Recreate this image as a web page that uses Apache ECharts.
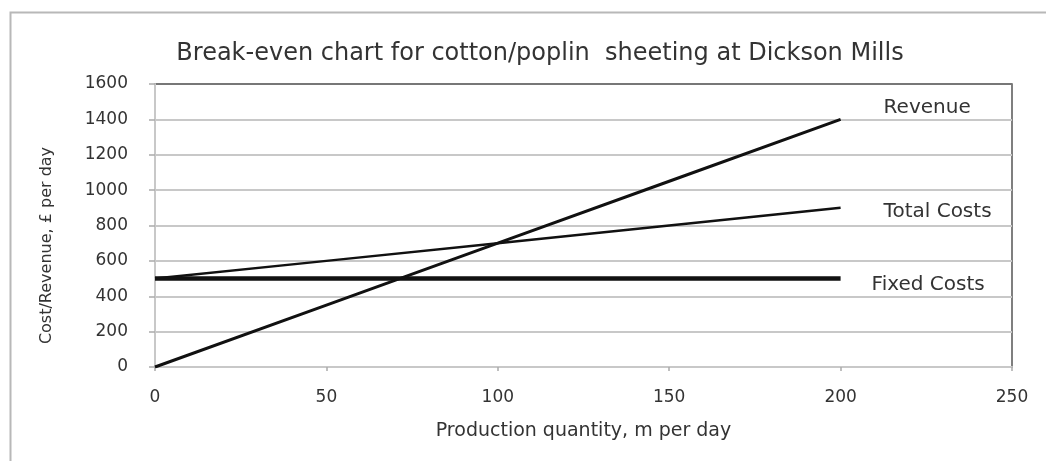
<!DOCTYPE html>
<html>
<head>
<meta charset="utf-8">
<title>Break-even chart</title>
<script src="https://cdn.jsdelivr.net/npm/echarts@6/dist/echarts.min.js"></script>
<style>
  html, body { margin: 0; padding: 0; background: #fff; }
  #chart { width: 1046px; height: 461px; }
</style>
</head>
<body>
<div id="chart"></div>
<script>
// data
var quantity = [0, 50, 100, 150, 200];
var revenue = [0, 350, 700, 1050, 1400];
var totalCosts = [500, 600, 700, 800, 900];
var fixedCosts = [500, 500, 500, 500, 500];
var seriesNames = ['Revenue', 'Total Costs', 'Fixed Costs'];
var xTicks = [0, 50, 100, 150, 200, 250];
var yTicks = [0, 200, 400, 600, 800, 1000, 1200, 1400, 1600];

function pairs(xs, ys) {
  return xs.map(function (x, i) { return [x, ys[i]]; });
}

var font = 'DejaVu Sans';
var chartDom = document.getElementById('chart');
var myChart = echarts.init(chartDom);
var option;

option = {
  animation: false,
  backgroundColor: '#fff',
  textStyle: { fontFamily: font },
  title: {
    text: 'Break-even chart for cotton/poplin  sheeting at Dickson Mills',
    left: 535,
    top: 37,
    textAlign: 'center',
    textStyle: { fontFamily: font, fontSize: 24, fontWeight: 'normal', color: '#333' }
  },
  graphic: [
    {
      type: 'rect',
      silent: true,
      z: -10,
      shape: { x: 10.5, y: 12.5, width: 1200, height: 600 },
      style: { fill: 'none', stroke: '#b8b8b8', lineWidth: 2 }
    }
  ],
  grid: {
    left: 155,
    top: 84,
    right: 34,
    bottom: 94,
    show: true,
    borderColor: '#555',
    borderWidth: 1.5
  },
  xAxis: {
    type: 'value',
    min: xTicks[0],
    max: xTicks[xTicks.length - 1],
    interval: 50,
    name: 'Production quantity, m per day',
    nameLocation: 'middle',
    nameGap: 55,
    nameTextStyle: { fontFamily: font, fontSize: 19, color: '#333' },
    axisLine: { show: true, lineStyle: { color: '#c8c8c8', width: 2 } },
    axisTick: { show: true, length: 4, lineStyle: { color: '#aaa', width: 1.5 } },
    axisLabel: { fontFamily: font, fontSize: 17, color: '#333', margin: 22 },
    splitLine: { show: false }
  },
  yAxis: {
    type: 'value',
    min: yTicks[0],
    max: yTicks[yTicks.length - 1],
    interval: 200,
    name: 'Cost/Revenue, £ per day',
    nameLocation: 'middle',
    nameGap: 100,
    nameTextStyle: { fontFamily: font, fontSize: 16, color: '#333', padding: [0, 40, 0, 0] },
    axisLine: { show: true, lineStyle: { color: '#c8c8c8', width: 2 } },
    axisTick: { show: true, length: 6, lineStyle: { color: '#aaa', width: 1.5 } },
    axisLabel: {
      fontFamily: font, fontSize: 17, color: '#333', margin: 27,
      formatter: function (v) { return String(v); }
    },
    splitLine: {
      show: true,
      lineStyle: { color: ['#c8c8c8', '#c8c8c8', '#c8c8c8', '#c8c8c8', '#c8c8c8', '#c8c8c8', '#c8c8c8', '#c8c8c8', '#777'], width: 2 }
    }
  },
  series: [
    {
      name: seriesNames[0],
      type: 'line',
      data: pairs(quantity, revenue),
      symbol: 'none',
      lineStyle: { color: '#111', width: 3 },
      endLabel: {
        show: true,
        formatter: '{a}',
        distance: 0,
        offset: [43, -12],
        fontFamily: font, fontSize: 20, color: '#333'
      }
    },
    {
      name: seriesNames[1],
      type: 'line',
      data: pairs(quantity, totalCosts),
      symbol: 'none',
      lineStyle: { color: '#111', width: 2.5 },
      endLabel: {
        show: true,
        formatter: '{a}',
        distance: 0,
        offset: [43, 4],
        fontFamily: font, fontSize: 20, color: '#333'
      }
    },
    {
      name: seriesNames[2],
      type: 'line',
      data: pairs(quantity, fixedCosts),
      symbol: 'none',
      lineStyle: { color: '#111', width: 4.5 },
      endLabel: {
        show: true,
        formatter: '{a}',
        distance: 0,
        offset: [31, 6],
        fontFamily: font, fontSize: 20, color: '#333'
      }
    }
  ]
};

if (option && typeof option === 'object') {
  myChart.setOption(option);
}
</script>
</body>
</html>
